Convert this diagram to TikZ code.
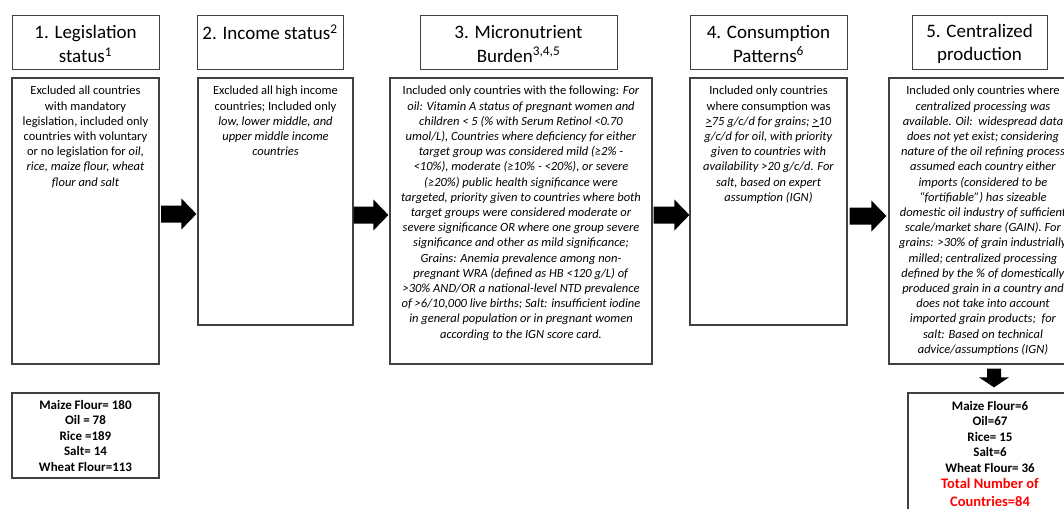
\documentclass[tikz,border=0pt]{standalone}
\usepackage{fontspec}
\setmainfont{Carlito}
\usetikzlibrary{calc}
\definecolor{framegray}{RGB}{64,64,64}
\begin{document}
\begin{tikzpicture}[x=1pt,y=-1pt,
  titlebox/.style={draw=framegray, line width=0.9pt, inner sep=0pt, minimum height=54pt},
  titletext/.style={align=center, inner sep=0pt, font=\fontsize{19}{23.5}\selectfont},
  framebox/.style={draw=framegray, line width=1.2pt, inner sep=0pt},
  bodytext/.style={align=center, inner sep=0pt, anchor=north, font=\fontsize{12.5}{15.2}\selectfont},
  counttext/.style={align=center, inner sep=0pt, font=\bfseries\fontsize{13}{15.5}\selectfont},
  totaltext/.style={align=center, inner sep=0pt, text=red, font=\bfseries\fontsize{14.5}{17.3}\selectfont},
  blockarrow/.style={to path={let \p1=(\tikztostart), \p2=(\tikztotarget) in
    (\x1,\y1+8.5pt) -- (\x2-15pt,\y1+8.5pt) -- (\x2-15pt,\y1+15.5pt) -- (\x2,\y1)
    -- (\x2-15pt,\y1-15.5pt) -- (\x2-15pt,\y1-8.5pt) -- (\x1,\y1-8.5pt) -- cycle}},
  blockarrowdown/.style={to path={let \p1=(\tikztostart), \p2=(\tikztotarget) in
    (\x1-7pt,\y1) -- (\x1-7pt,\y2+10pt) -- (\x1-15pt,\y2+10pt) -- (\x1,\y2)
    -- (\x1+15pt,\y2+10pt) -- (\x1+7pt,\y2+10pt) -- (\x1+7pt,\y1) -- cycle}}
]
\useasboundingbox (0,0) rectangle (1064,508);
\clip (0,0) rectangle (1064,508);

% title boxes
\node[titlebox, minimum width=147pt] (h1) at (85.5,42) {};
\node[titlebox, minimum width=146pt] (h2) at (270,42) {};
\node[titlebox, minimum width=197pt] (h3) at (518.5,42) {};
\node[titlebox, minimum width=157pt] (h4) at (768.5,42) {};
\node[titlebox, minimum width=135pt] (h5) at (979.5,42) {};
\node[titletext] (h1t) at ($(h1)+(0,2)$) {1. Legislation\\status\textsuperscript{1}};
\node[titletext] (h2t) at ($(h2)+(0,2)$) {2. Income status\textsuperscript{2}\\\mbox{}};
\node[titletext] (h3t) at ($(h3)+(0,2)$) {3. Micronutrient\\Burden\textsuperscript{3,4,5}};
\node[titletext] (h4t) at ($(h4)+(0,2)$) {4. Consumption\\Patterns\textsuperscript{6}};
\node[titletext] (h5t) at ($(h5)+(0,2)$) {5. Centralized\\production};

% content frames
\node[framebox, minimum width=147pt, minimum height=286pt] (b1) at (85.5,221) {};
\node[framebox, minimum width=155pt, minimum height=247pt] (b2) at (275.5,201.5) {};
\node[framebox, minimum width=262pt, minimum height=286pt] (b3) at (521,221) {};
\node[framebox, minimum width=157pt, minimum height=247pt] (b4) at (768.5,201.5) {};
\node[framebox, minimum width=188pt, minimum height=286pt] (b5) at (983,221) {};

% content texts
\node[bodytext] (t1) at (85.5,86) {Excluded all countries\\with mandatory\\legislation, included only\\countries with voluntary\\or no legislation for \textit{oil,}\\\textit{rice, maize flour, wheat}\\\textit{flour and salt}};
\node[bodytext] (t2) at (275.5,86) {Excluded all high income\\countries; Included only\\\textit{low, lower middle, and}\\\textit{upper middle income}\\\textit{countries}};
\node[bodytext] (t3) at (521,86) {Included only countries with the following: \textit{For}\\
\textit{oil: Vitamin A status of pregnant women and}\\
\textit{children < 5 (\% with Serum Retinol <0.70}\\
\textit{umol/L), Countries where deficiency for either}\\
\textit{target group was considered mild (≥2\% -}\\
\textit{<10\%), moderate (≥10\% - <20\%), or severe}\\
\textit{(≥20\%) public health significance were}\\
\textit{targeted, priority given to countries where both}\\
\textit{target groups were considered moderate or}\\
\textit{severe significance OR where one group severe}\\
\textit{significance and other as mild significance;}\\
\textit{Grains: Anemia prevalence among non-}\\
\textit{pregnant WRA (defined as HB <120 g/L) of}\\
\textit{>30\% AND/OR a national-level NTD prevalence}\\
\textit{of >6/10,000 live births; Salt: insufficient iodine}\\
\textit{in general population or in pregnant women}\\
\textit{according to the IGN score card.}};
\node[bodytext] (t4) at (768.5,86) {Included only countries\\where consumption was\\
\textit{\underline{>}75 g/c/d for grains; \underline{>}10}\\
\textit{g/c/d for oil, with priority}\\
\textit{given to countries with}\\
\textit{availability >20 g/c/d. For}\\
\textit{salt, based on expert}\\
\textit{assumption (IGN)}};
\node[bodytext] (t5) at (983,86) {Included only countries where\\
\textit{centralized processing was}\\
\textit{available. Oil:\ \ widespread data}\\
\textit{does not yet exist; considering}\\
\textit{nature of the oil refining process}\\
\textit{assumed each country either}\\
\textit{imports (considered to be}\\
\textit{“fortifiable”) has sizeable}\\
\textit{domestic oil industry of sufficient}\\
\textit{scale/market share (GAIN). For}\\
\textit{grains: >30\% of grain industrially}\\
\textit{milled; centralized processing}\\
\textit{defined by the \% of domestically}\\
\textit{produced grain in a country and}\\
\textit{does not take into account}\\
\textit{imported grain products;\ \ for}\\
\textit{salt: Based on technical}\\
\textit{advice/assumptions (IGN)}};

% count boxes
\node[framebox, counttext, minimum width=147pt, minimum height=85pt] (c1) at (85.5,435.5) {Maize Flour= 180\\Oil = 78\\Rice =189\\Salt= 14\\Wheat Flour=113};
\node[framebox, minimum width=164pt, minimum height=137pt] (c5) at (990,461.5) {};
\node[counttext, anchor=north] (n5) at (990,401) {Maize Flour=6\\Oil=67\\Rice= 15\\Salt=6\\Wheat Flour= 36};
\node[totaltext, anchor=north] (r5) at ($(n5.south)+(0,6)$) {Total Number of\\Countries=84};

% block arrows
\coordinate (ay) at (0,214);
\fill ($(b1.east|-ay)+(1.5,0)$) to[blockarrow] ($(b2.west|-ay)+(-1,0)$);
\fill ($(b2.east|-ay)+(0,1)$) to[blockarrow] ($(b3.west|-ay)+(-1,1)$);
\fill ($(b3.east|-ay)+(1,1)$) to[blockarrow] ($(b4.west|-ay)+(0,1)$);
\fill ($(b4.east|-ay)+(2,2)$) to[blockarrow] ($(b5.west|-ay)+(-2,2)$);
\coordinate (dx) at (994,0);
\fill ($(b5.south-|dx)+(0,4)$) to[blockarrowdown] ($(c5.north-|dx)+(0,-5)$);
\end{tikzpicture}
\end{document}
